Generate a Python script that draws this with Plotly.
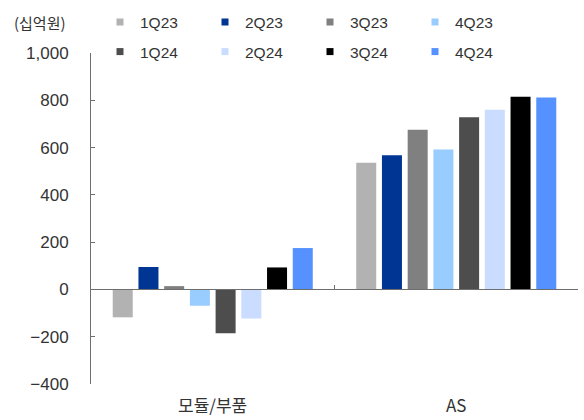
import plotly.graph_objects as go

categories = ["모듈/부품", "AS"]
series_names = ["1Q23", "2Q23", "3Q23", "4Q23", "1Q24", "2Q24", "3Q24", "4Q24"]
values = {
    "1Q23": [-118, 536],
    "2Q23": [95, 568],
    "3Q23": [14, 675],
    "4Q23": [-69, 592],
    "1Q24": [-185, 728],
    "2Q24": [-123, 760],
    "3Q24": [93, 815],
    "4Q24": [175, 812],
}
colors = ["#b2b2b2", "#003594", "#808080", "#99ccff",
          "#4d4d4d", "#cadcff", "#000000", "#5592ff"]
y_ticks = [-400, -200, 0, 200, 400, 600, 800, 1000]
unit_label = "(십억원)"

W, H = 584, 420
ML, MR, MT, MB = 91, 6, 48, 36
pw, ph = W - ML - MR, H - MT - MB
ymin, ymax = -400, 1000

NUM_FONT = "Liberation Sans"
KR_FONT = "Noto Sans CJK KR"
AX = "#6e6e6e"
TXT = "#333333"

fig = go.Figure()
for i, (name, col) in enumerate(zip(series_names, colors)):
    fig.add_trace(go.Bar(
        x=categories, y=values[name], name=name,
        marker=dict(color=col, line=dict(width=0)),
        showlegend=False,
    ))
    # legend-only entries with small square symbols
    fig.add_trace(go.Scatter(
        x=[None], y=[None], mode="markers", name=name,
        marker=dict(symbol="square", size=7, color=col),
        legend="legend" if i < 4 else "legend2",
    ))

zero_pos = (0 - ymin) / (ymax - ymin)

def px_x(p):
    return (p - ML) / pw

def px_y(p):
    return 1 - (p - MT) / ph

leg_common = dict(
    orientation="h", xref="paper", yref="paper",
    xanchor="left", yanchor="middle",
    font=dict(family=NUM_FONT, size=15.5, color=TXT),
    itemwidth=30, entrywidth=60, entrywidthmode="pixels",
    bgcolor="rgba(0,0,0,0)", borderwidth=0, traceorder="normal",
)

fig.update_layout(
    width=W, height=H,
    margin=dict(l=ML, r=MR, t=MT, b=MB),
    paper_bgcolor="white", plot_bgcolor="white",
    barmode="group", bargap=0.155, bargroupgap=0.222,
    legend=dict(x=px_x(100), y=px_y(17), **leg_common),
    legend2=dict(x=px_x(100), y=px_y(47), **leg_common),
    xaxis=dict(
        type="category", anchor="free", position=zero_pos,
        showline=True, linecolor=AX, linewidth=1,
        ticks="inside", tickson="boundaries", ticklen=4, tickcolor=AX,
        showticklabels=False, showgrid=False, zeroline=False,
    ),
    yaxis=dict(
        range=[ymin, ymax], tickvals=y_ticks, tickformat=",",
        showline=True, linecolor=AX, linewidth=1,
        ticks="inside", ticklen=4, tickcolor=AX,
        ticklabelstandoff=18,
        showgrid=False, zeroline=False,
        tickfont=dict(family=NUM_FONT, size=17, color=TXT),
    ),
    font=dict(family=NUM_FONT, color=TXT),
)

fig.add_annotation(
    text=unit_label, xref="paper", yref="paper",
    x=px_x(12), y=px_y(17), xanchor="left", yanchor="middle",
    showarrow=False, font=dict(family=KR_FONT, size=15, color=TXT),
)
for c in categories:
    fig.add_annotation(
        text=c, xref="x", yref="paper", x=c, y=px_y(405),
        xanchor="center", yanchor="middle", showarrow=False,
        font=dict(family=KR_FONT, size=17, color=TXT),
    )

fig.write_html("out.html")
